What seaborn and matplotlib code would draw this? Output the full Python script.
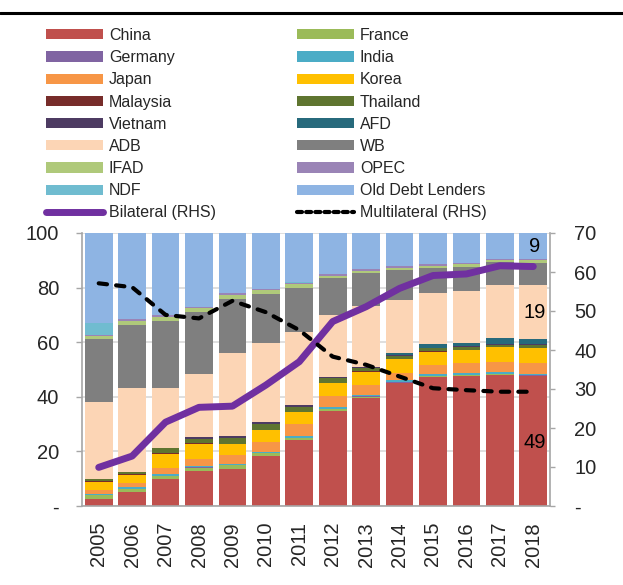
import matplotlib
matplotlib.use('Agg')
import matplotlib.pyplot as plt
from matplotlib.patches import Patch
from matplotlib.lines import Line2D
import numpy as np
import pandas as pd
import seaborn as sns

#%% Dados (% do total)
years = [str(y) for y in range(2005, 2019)]

china    = [2.6, 5.1, 9.8, 12.9, 13.7, 18.3, 24.2, 34.9, 39.7, 44.9, 47.4, 47.7, 48.0, 47.6]
france   = [1.3, 1.2, 1.2, 1.2, 1.2, 1.0, 0.7, 0.6, 0.4, 0.3, 0.2, 0.2, 0.2, 0.2]
germany  = [0.1, 0.1, 0.1, 0.1, 0.1, 0.1, 0.1, 0.1, 0.1, 0.1, 0.1, 0.1, 0.1, 0.1]
india    = [0.3, 0.4, 0.6, 0.5, 0.4, 0.5, 0.7, 0.5, 0.6, 0.7, 0.8, 0.8, 0.7, 0.6]
japan    = [1.5, 1.8, 2.4, 2.5, 3.2, 3.7, 4.2, 4.2, 3.5, 2.8, 3.1, 3.7, 3.9, 4.0]
korea    = [3.0, 2.9, 5.0, 5.5, 4.0, 4.2, 4.5, 4.6, 4.9, 4.9, 4.9, 4.6, 5.2, 5.3]
malaysia = [0.3, 0.2, 0.2, 0.2, 0.2, 0.2, 0.2, 0.2, 0.2, 0.2, 0.2, 0.2, 0.2, 0.2]
thailand = [0.7, 0.7, 1.8, 1.8, 2.2, 2.0, 1.7, 1.7, 1.2, 1.1, 1.0, 0.9, 0.8, 1.0]
vietnam  = [0.2, 0.2, 0.3, 0.4, 0.5, 0.6, 0.6, 0.3, 0.4, 0.4, 0.3, 0.3, 0.3, 0.3]
afd      = [0.0, 0.0, 0.0, 0.0, 0.0, 0.0, 0.0, 0.0, 0.0, 0.5, 1.2, 1.2, 2.0, 1.8]
adb      = [28.2, 30.5, 21.7, 23.3, 30.5, 29.0, 27.0, 22.9, 22.3, 19.7, 18.7, 19.2, 19.6, 19.9]
wb       = [22.8, 23.2, 24.8, 22.8, 19.8, 18.2, 16.1, 13.6, 12.2, 11.0, 9.4, 8.8, 8.2, 8.1]
ifad     = [1.2, 1.5, 1.5, 1.2, 1.5, 1.2, 1.2, 0.8, 0.7, 0.7, 0.7, 0.8, 0.8, 0.9]
opec     = [0.4, 0.6, 0.6, 0.6, 0.7, 0.5, 0.6, 0.5, 0.6, 0.5, 0.6, 0.6, 0.6, 0.6]
ndf      = [4.5, 0.0, 0.0, 0.0, 0.0, 0.0, 0.3, 0.0, 0.0, 0.0, 0.0, 0.0, 0.0, 0.0]
old_debt = [32.9, 31.6, 30.0, 27.0, 22.1, 20.5, 17.9, 15.1, 13.2, 12.2, 11.4, 10.9, 9.4, 9.4]

bilateral    = [9.9, 12.8, 21.5, 25.3, 25.6, 31.0, 37.0, 47.3, 51.1, 55.8, 59.1, 59.5, 61.6, 61.4]
multilateral = [57.1, 56.1, 49.0, 48.1, 52.6, 49.7, 45.1, 38.3, 36.2, 33.2, 30.2, 29.7, 29.3, 29.3]

series_names = ['China', 'France', 'Germany', 'India', 'Japan', 'Korea', 'Malaysia',
                'Thailand', 'Vietnam', 'AFD', 'ADB', 'WB', 'IFAD', 'OPEC', 'NDF',
                'Old Debt Lenders']
series_vals = [china, france, germany, india, japan, korea, malaysia, thailand,
               vietnam, afd, adb, wb, ifad, opec, ndf, old_debt]
colors = ['#C0504D', '#9BBB59', '#8064A2', '#4BACC6', '#F79646', '#FFC000', '#772C2A',
          '#5F7530', '#4D3B62', '#276A7C', '#FCD5B5', '#7F7F7F', '#AFC97A', '#9A84B6',
          '#70BCD0', '#8EB4E3']

# valores rotulados no gráfico (barra de 2018)
labels_2018 = [('9', 95.0), ('19', 70.7), ('49', 23.4)]

#%% Figura
sns.set_style('white')
plt.rcParams['font.family'] = ['Liberation Sans', 'DejaVu Sans']
plt.rcParams['font.size'] = 14.5

fig = plt.figure(figsize=(6.23, 5.85), dpi=100)
ax = fig.add_axes([82/623, 79/585, 468/623, 273/585])

df = pd.DataFrame(dict(zip(series_names, series_vals)), index=years)
cum = df.cumsum(axis=1)

# empilhado: desenha do total acumulado maior para o menor
for name, col in reversed(list(zip(series_names, colors))):
    sns.barplot(x=years, y=cum[name].values, color=col, saturation=1, width=0.83,
                linewidth=0, ax=ax, zorder=2)

ax.set_ylim(0, 100)
ax.set_xlim(-0.5, 13.5)
ax.set_yticks([0, 20, 40, 60, 80, 100])
ax.set_yticklabels(['-', '20', '40', '60', '80', '100'])
ax.yaxis.grid(True, color='#D9D9D9', linewidth=1.2, zorder=0)
ax.set_axisbelow(True)
ax.tick_params(axis='y', which='both', left=True, length=4.5, width=1, color='#A6A6A6',
               labelsize=14.5, pad=12)
ax.tick_params(axis='x', bottom=False, labelsize=14.5, rotation=90, pad=8)
for s in ['top', 'right']:
    ax.spines[s].set_visible(False)
for s in ['left', 'bottom']:
    ax.spines[s].set_color('#A6A6A6')
    ax.spines[s].set_linewidth(1.2)
ax.set_xlabel('')
ax.set_ylabel('')

# eixo da direita (RHS)
ax2 = ax.twinx()
xpos = np.arange(len(years))
sns.lineplot(x=xpos, y=bilateral, color='#7030A0', linewidth=5, ax=ax2,
             solid_capstyle='round', solid_joinstyle='round')
sns.lineplot(x=xpos, y=multilateral, color='black', linewidth=3, ax=ax2,
             linestyle=(0, (2.0, 2.2)), dash_capstyle='round')
ax2.set_ylim(0, 70)
ax2.set_xlim(-0.5, 13.5)
ax2.set_yticks(range(0, 80, 10))
ax2.set_yticklabels(['-'] + [str(v) for v in range(10, 80, 10)])
ax2.tick_params(axis='y', right=True, length=3.5, width=1, color='#A6A6A6',
                labelsize=14.5, pad=14)
for s in ['top', 'left', 'bottom']:
    ax2.spines[s].set_visible(False)
ax2.spines['right'].set_color('#A6A6A6')
ax2.spines['right'].set_linewidth(1.2)
ax2.set_ylabel('')

for txt, yv in labels_2018:
    ax.text(13.05, yv, txt, ha='center', va='center', fontsize=14.5, color='black', zorder=5)

# legenda (ordem por linhas, 2 colunas)
handles = [Patch(facecolor=c, edgecolor='none') for c in colors]
names = list(series_names)
handles.append(Line2D([], [], color='#7030A0', linewidth=5, solid_capstyle='round'))
names.append('Bilateral (RHS)')
handles.append(Line2D([], [], color='black', linewidth=3, linestyle=(0, (1.2, 1.0)),
                      dash_capstyle='round'))
names.append('Multilateral (RHS)')
order = list(range(0, 18, 2)) + list(range(1, 18, 2))
fig.legend([handles[i] for i in order], [names[i] for i in order], ncol=2,
           loc='upper left', bbox_to_anchor=(46/623, 1 - 28/585), frameon=False,
           handlelength=3.55, handleheight=0.6, handletextpad=0.38,
           columnspacing=5.1, labelspacing=0.45, borderpad=0, borderaxespad=0,
           fontsize=11.5)

# linha preta no topo
fig.add_artist(Line2D([0, 1], [1 - 13/585, 1 - 13/585], color='black', linewidth=2.2,
                      transform=fig.transFigure))

fig.savefig('out.png', dpi=100)
